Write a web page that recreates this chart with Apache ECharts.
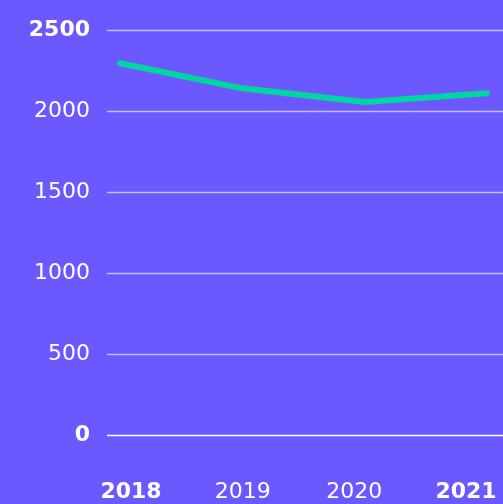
<!DOCTYPE html>
<html>
<head>
<meta charset="utf-8">
<script src="https://cdn.jsdelivr.net/npm/echarts@6/dist/echarts.min.js"></script>
<style>
  html, body {margin: 0; padding: 0; background: #6b58ff;}
  #main {width: 503px; height: 504px;}
</style>
</head>
<body>
<div id="main"></div>
<script>
const years = ["2018", "2019", "2020", "2021"];
const values = [2295, 2140, 2055, 2110];
const yTicks = [0, 500, 1000, 1500, 2000, 2500];
const boldYears = ["2018", "2021"];

const font = "DejaVu Sans";
const rich = {
  b: {fontWeight: "bold", fontSize: 22, color: "#fff", fontFamily: font},
  n: {fontWeight: "normal", fontSize: 22, color: "#fff", fontFamily: font},
};

const chart = echarts.init(document.getElementById("main"));
chart.setOption({
  backgroundColor: "#6b58ff",
  animation: false,
  grid: [
    // axis + split lines
    {left: 107, right: 0, top: 30, bottom: 69},
    // line
    {left: 120, right: 16, top: 30, bottom: 69},
    // year labels
    {left: 131, right: 37, top: 30, bottom: 69},
  ],
  xAxis: [
    {gridIndex: 0, type: "value", show: false},
    {gridIndex: 1, type: "category", data: years, boundaryGap: false, show: false},
    {
      gridIndex: 2,
      type: "category",
      data: years,
      boundaryGap: false,
      axisLine: {show: false},
      axisTick: {show: false},
      axisLabel: {
        margin: 46,
        formatter: v => (boldYears.includes(v) ? "{b|" + v + "}" : "{n|" + v + "}"),
        rich: rich,
      },
    },
  ],
  yAxis: [
    {
      gridIndex: 0,
      type: "value",
      min: yTicks[0],
      max: yTicks[yTicks.length - 1],
      interval: 500,
      axisLine: {show: false},
      axisTick: {show: false},
      axisLabel: {
        margin: 17,
        formatter: v =>
          v === yTicks[0] || v === yTicks[yTicks.length - 1] ? "{b|" + v + "}" : "{n|" + v + "}",
        rich: rich,
      },
      splitLine: {
        lineStyle: {
          color: ["#ffffff", "rgba(255,255,255,0.6)", "rgba(255,255,255,0.6)",
            "rgba(255,255,255,0.6)", "rgba(255,255,255,0.6)", "rgba(255,255,255,0.6)"],
          width: 1.3,
        },
      },
    },
    {gridIndex: 1, type: "value", min: 0, max: 2500, show: false},
    {gridIndex: 2, type: "value", min: 0, max: 2500, show: false},
  ],
  series: [
    {
      type: "line",
      xAxisIndex: 1,
      yAxisIndex: 1,
      data: values,
      symbol: "none",
      lineStyle: {color: "#00d6a0", width: 6, cap: "round", join: "round"},
    },
  ],
});
</script>
</body>
</html>
